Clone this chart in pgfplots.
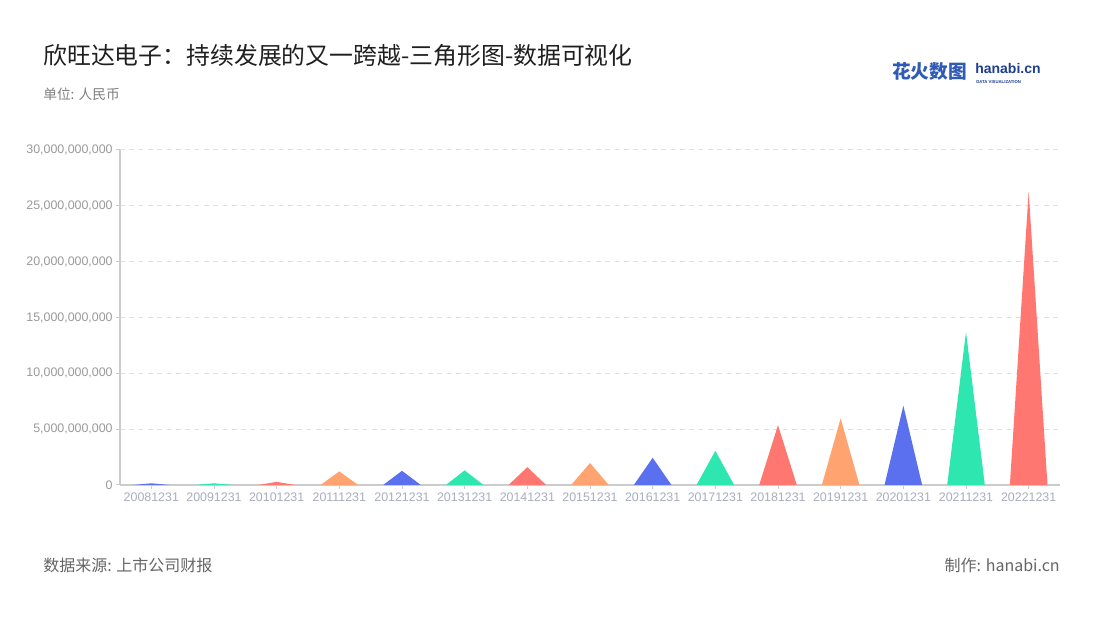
\documentclass[border=0pt]{standalone}
\usepackage{pgfplots}
\pgfplotsset{compat=1.18}
\usepackage{fontspec}
\setmainfont{Noto Sans CJK SC}
\newfontfamily\tickfont{Liberation Sans}
\definecolor{cblue}{HTML}{5A70EE}
\definecolor{cgreen}{HTML}{2EE6B0}
\definecolor{cred}{HTML}{FF7770}
\definecolor{corange}{HTML}{FFA370}
\definecolor{axgray}{HTML}{CCCCCC}
\definecolor{ylab}{HTML}{9A9A9A}
\definecolor{xlab}{HTML}{A9ADBE}
\definecolor{logoblue}{HTML}{2F5BB7}
\definecolor{logodark}{HTML}{1F3F8F}
\begin{document}
\begin{tikzpicture}[x=0.75pt,y=0.75pt]
\useasboundingbox (0,0) rectangle (1100,620);
\fill[white] (0,0) rectangle (1100,620);
% title etc.
\node[anchor=base west, inner sep=0pt, text=black!88, font=\fontsize{17.9pt}{20pt}\selectfont] at (43,555) {欣旺达电子：持续发展的又一跨越-三角形图-数据可视化};
\node[anchor=base west, inner sep=0pt, text=black!50, font=\fontsize{10.3pt}{12pt}\selectfont] at (43,520) {单位: 人民币};
\node[anchor=base west, inner sep=0pt, text=black!60, font=\fontsize{12pt}{14pt}\selectfont] at (43,48) {数据来源: 上市公司财报};
\node[anchor=base east, inner sep=0pt, text=black!60, font=\fontsize{12pt}{14pt}\selectfont] at (1060,48) {制作: hanabi.cn};
% logo
\node[anchor=base west, inner sep=0pt, text=logoblue, font=\fontsize{14pt}{16pt}\selectfont\bfseries] at (892,541) {花火数图};
\node[anchor=base west, inner sep=0pt, text=logodark, font=\fontsize{10.5pt}{12pt}\selectfont\tickfont\bfseries] at (975,546) {hanabi.cn};
\node[anchor=base west, inner sep=0pt, text=logodark, font=\fontsize{3.2pt}{4pt}\selectfont\tickfont\bfseries] at (976,536.5) {DATA VISUALIZATION};
\begin{axis}[
  at={(90pt,101.25pt)}, anchor=south west,
  scale only axis, width=705pt, height=251.25pt,
  xmin=-0.5, xmax=14.5, ymin=0, ymax=30,
  axis x line*=bottom, axis y line*=left,
  axis line style={-, draw=axgray, line width=1pt},
  xtick={0,...,14},
  xticklabels={20081231,20091231,20101231,20111231,20121231,20131231,20141231,20151231,20161231,20171231,20181231,20191231,20201231,20211231,20221231},
  ytick={0,5,10,15,20,25,30},
  yticklabels={0,{5,000,000,000},{10,000,000,000},{15,000,000,000},{20,000,000,000},{25,000,000,000},{30,000,000,000}},
  tick align=outside, major tick length=3pt,
  tick style={draw=axgray, line width=0.75pt},
  x tick label style={font=\fontsize{9.3pt}{10pt}\selectfont\tickfont, text=xlab, yshift=1pt},
  y tick label style={font=\fontsize{9.3pt}{10pt}\selectfont\tickfont, text=ylab, xshift=1pt},
  ymajorgrids, grid style={draw=black!12, line width=0.75pt, dash pattern=on 3.5pt off 3.5pt},
  clip=false,
]
\addplot[fill=cblue, draw=none] coordinates {(-0.3,0) (0,0.15) (0.3,0)} \closedcycle;
\addplot[fill=cgreen, draw=none] coordinates {(0.7,0) (1,0.15) (1.3,0)} \closedcycle;
\addplot[fill=cred, draw=none] coordinates {(1.7,0) (2,0.28) (2.3,0)} \closedcycle;
\addplot[fill=corange, draw=none] coordinates {(2.7,0) (3,1.22) (3.3,0)} \closedcycle;
\addplot[fill=cblue, draw=none] coordinates {(3.7,0) (4,1.27) (4.3,0)} \closedcycle;
\addplot[fill=cgreen, draw=none] coordinates {(4.7,0) (5,1.31) (5.3,0)} \closedcycle;
\addplot[fill=cred, draw=none] coordinates {(5.7,0) (6,1.6) (6.3,0)} \closedcycle;
\addplot[fill=corange, draw=none] coordinates {(6.7,0) (7,1.97) (7.3,0)} \closedcycle;
\addplot[fill=cblue, draw=none] coordinates {(7.7,0) (8,2.44) (8.3,0)} \closedcycle;
\addplot[fill=cgreen, draw=none] coordinates {(8.7,0) (9,3.06) (9.3,0)} \closedcycle;
\addplot[fill=cred, draw=none] coordinates {(9.7,0) (10,5.36) (10.3,0)} \closedcycle;
\addplot[fill=corange, draw=none] coordinates {(10.7,0) (11,5.97) (11.3,0)} \closedcycle;
\addplot[fill=cblue, draw=none] coordinates {(11.7,0) (12,7.1) (12.3,0)} \closedcycle;
\addplot[fill=cgreen, draw=none] coordinates {(12.7,0) (13,13.7) (13.3,0)} \closedcycle;
\addplot[fill=cred, draw=none] coordinates {(13.7,0) (14,26.3) (14.3,0)} \closedcycle;
\end{axis}
\end{tikzpicture}
\end{document}
